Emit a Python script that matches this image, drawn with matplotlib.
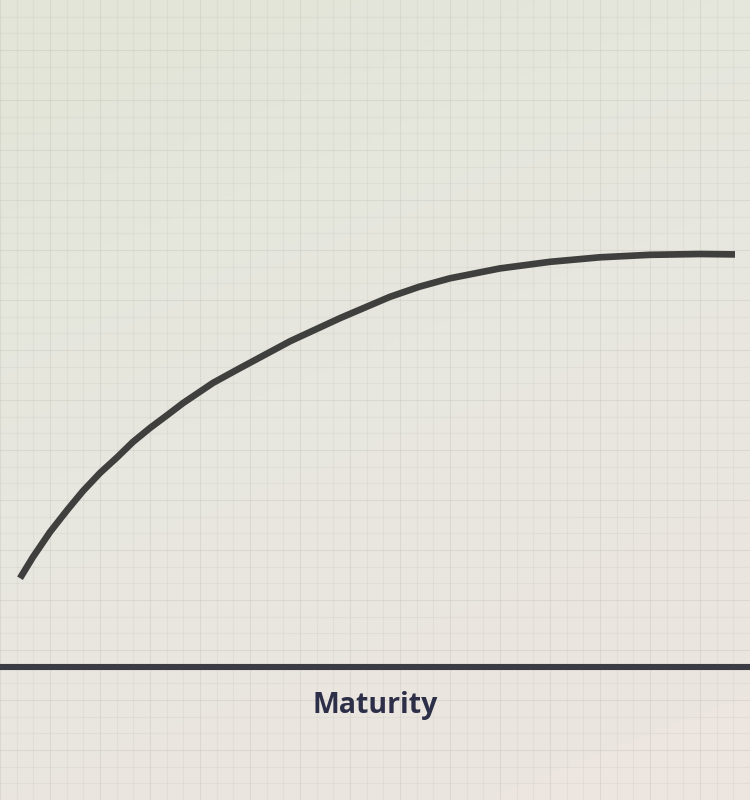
import numpy as np
import matplotlib.pyplot as plt
from matplotlib.colors import LinearSegmentedColormap

# courbe de maturité (lecture sur l'image, unités arbitraires)
maturite = [0.0, 0.18, 0.42, 0.66, 0.88, 1.12, 1.36, 1.58, 1.82, 2.06, 2.28, 2.70,
            3.08, 3.78, 4.48, 5.17, 5.59, 6.01, 6.71, 7.41, 8.11, 8.81, 9.51, 10.0]
valeur = [21.5, 26.6, 32.7, 38.0, 42.6, 47.0, 50.8, 54.5, 57.9, 61.0, 63.9, 68.8,
          72.4, 78.9, 84.5, 89.6, 92.1, 94.1, 96.5, 98.1, 99.2, 99.8, 100.0, 99.9]
label_axe = "Maturity"

# limites de la vue
xmin, xmax = -0.28, 10.21
ymin, ymax = -32.2, 161.5

fig = plt.figure(figsize=(7.5, 8), dpi=100)
ax = fig.add_axes([0, 0, 1, 1])
ax.axis('off')

# fond dégradé vert pâle (haut) -> rose pâle (bas)
cmap = LinearSegmentedColormap.from_list('fond', ['#e3e5d8', '#e7e7df', '#ece5e0'])
gx, gy = np.meshgrid(np.linspace(0, 1, 200), np.linspace(0, 1, 200))
grad = np.clip(0.8 * gy + 0.3 * gx, 0, 1)
ax.imshow(grad, cmap=cmap, vmin=0, vmax=1, extent=[xmin, xmax, ymin, ymax],
          origin='upper', aspect='auto', zorder=0)

# papier millimétré
pas_x = (xmax - xmin) / 45
pas_y = (ymax - ymin) / 48
for i, gxv in enumerate(np.arange(xmin, xmax, pas_x)):
    ax.axvline(gxv, color='#c4c4bb', lw=0.8, alpha=0.22 if i % 3 else 0.38, zorder=1)
for i, gyv in enumerate(np.arange(ymin, ymax, pas_y)):
    ax.axhline(gyv, color='#c4c4bb', lw=0.8, alpha=0.22 if i % 3 else 0.38, zorder=1)

ax.axhline(0, color='#3b3b43', lw=4.4, zorder=3)
ax.plot(maturite, valeur, color='#3f3f3e', lw=4.8, solid_capstyle='butt',
        solid_joinstyle='round', zorder=4)

ax.text((375 - 20) / 71.5, -9.4, label_axe,
        ha='center', va='center', fontsize=20.5, fontweight='bold', color='#2d2f48',
        family=['Open Sans', 'DejaVu Sans'], zorder=5)

ax.set_xlim(xmin, xmax)
ax.set_ylim(ymin, ymax)
fig.savefig('out.png', dpi=100)
